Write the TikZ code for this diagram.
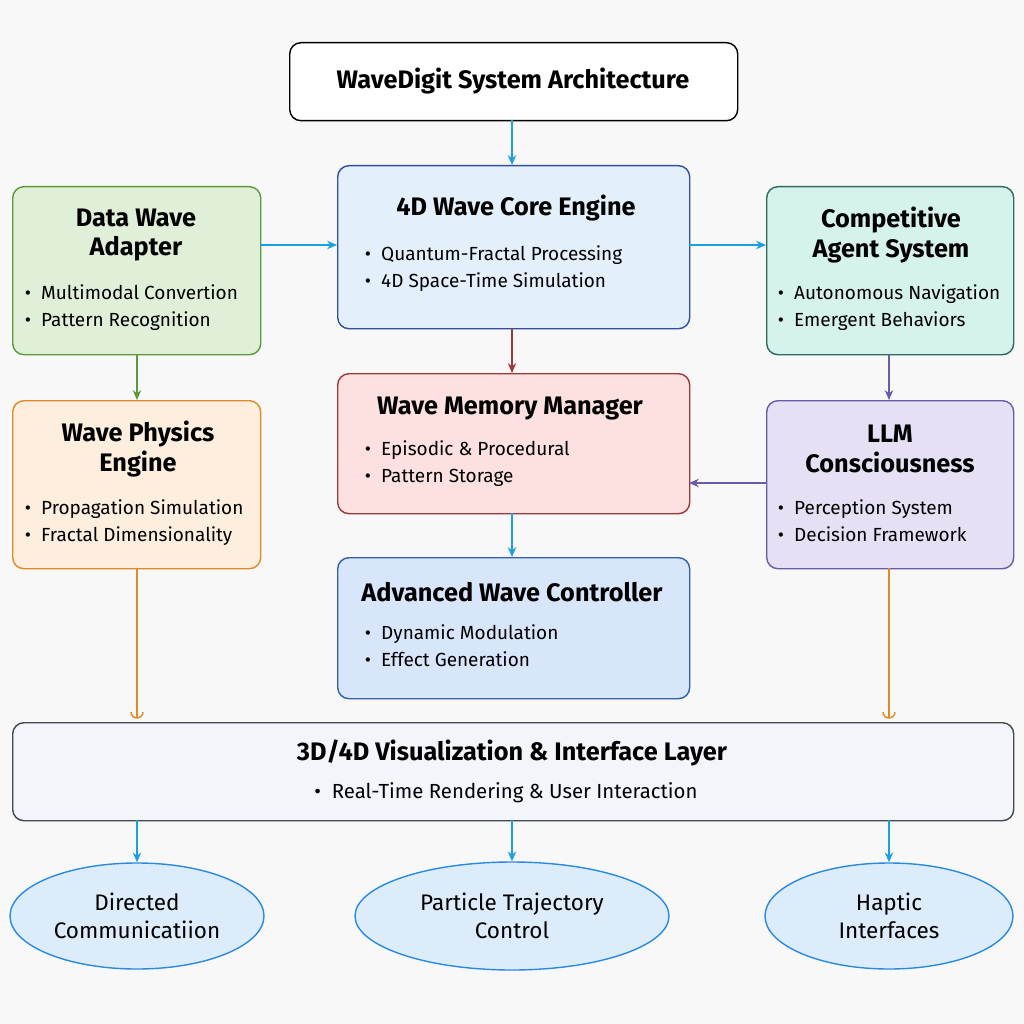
\documentclass[tikz,border=0pt]{standalone}
\usepackage{fontspec}
\setmainfont{Fira Sans}
\usetikzlibrary{arrows.meta,shapes.geometric}
\definecolor{bg}{HTML}{F8F8F8}
\begin{document}
\begin{tikzpicture}[x=0.025cm,y=-0.025cm,
 box/.style={draw,rounded corners=8pt,line width=1pt,anchor=north west,inner sep=0pt},
 head/.style={font=\fontsize{18}{21}\selectfont\bfseries,align=center},
 bul/.style={font=\fontsize{13.5}{16}\selectfont,align=left,anchor=north west},
 arr/.style={-{Stealth[length=7pt,width=6pt]},line width=1pt},
 ell/.style={draw=eB,fill=eF,line width=1pt,ellipse,inner sep=0pt,font=\fontsize{16}{20}\selectfont,align=center}]
\definecolor{eB}{HTML}{2A8AE0}\definecolor{eF}{HTML}{DCECFB}
\path[fill=bg] (0,0) rectangle (1024,1024);
\definecolor{gB}{HTML}{5A9A3A}\definecolor{gF}{HTML}{E0F0D8}
\definecolor{cB}{HTML}{2F4F9F}\definecolor{cF}{HTML}{E3F0FC}
\definecolor{tB}{HTML}{2F6A5E}\definecolor{tF}{HTML}{D5F2EC}
\definecolor{oB}{HTML}{E08A2A}\definecolor{oF}{HTML}{FDEEDD}
\definecolor{rB}{HTML}{9A3A3A}\definecolor{rF}{HTML}{FDE0E0}
\definecolor{pB}{HTML}{6A5AAA}\definecolor{pF}{HTML}{E6E0F5}
\definecolor{bB}{HTML}{2F5FAF}\definecolor{bF}{HTML}{D8E6FB}
\definecolor{vB}{HTML}{404850}\definecolor{vF}{HTML}{F3F5FB}
\definecolor{ar}{HTML}{1AA0E0}
% boxes
\node[box,fill=white,minimum width=448*0.025cm,minimum height=78*0.025cm] (title) at (289,42) {};
\node[font=\fontsize{18}{21}\selectfont\bfseries] at (513,81) {WaveDigit System Architecture};
\node[box,draw=gB,fill=gF,minimum width=248*0.025cm,minimum height=168*0.025cm] (dwa) at (12,186) {};
\node[head] at (136,235) {Data Wave\\Adapter};
\node[bul] at (20,280) {•\ \ Multimodal Convertion\\[3pt]•\ \ Pattern Recognition};
\node[box,draw=cB,fill=cF,minimum width=352*0.025cm,minimum height=163*0.025cm] (core) at (337,165) {};
\node[head] at (516,208) {4D Wave Core Engine};
\node[bul] at (360,241) {•\ \ Quantum-Fractal Processing\\[3pt]•\ \ 4D Space-Time Simulation};
\node[box,draw=tB,fill=tF,minimum width=247*0.025cm,minimum height=168*0.025cm] (cas) at (766,186) {};
\node[head] at (891,235) {Competitive\\Agent System};
\node[bul] at (773,280) {•\ \ Autonomous Navigation\\[3pt]•\ \ Emergent Behaviors};
\node[box,draw=oB,fill=oF,minimum width=248*0.025cm,minimum height=168*0.025cm] (wpe) at (12,400) {};
\node[head] at (138,449) {Wave Physics\\Engine};
\node[bul] at (20,495) {•\ \ Propagation Simulation\\[3pt]•\ \ Fractal Dimensionality};
\node[box,draw=rB,fill=rF,minimum width=352*0.025cm,minimum height=140*0.025cm] (mem) at (337,373) {};
\node[head] at (510,409) {Wave Memory Manager};
\node[bul] at (360,436) {•\ \ Episodic \& Procedural\\[3pt]•\ \ Pattern Storage};
\node[box,draw=pB,fill=pF,minimum width=247*0.025cm,minimum height=168*0.025cm] (llm) at (766,400) {};
\node[head] at (890,449) {LLM\\Consciousness};
\node[bul] at (773,495) {•\ \ Perception System\\[3pt]•\ \ Decision Framework};
\node[box,draw=bB,fill=bF,minimum width=352*0.025cm,minimum height=141*0.025cm] (ctl) at (337,557) {};
\node[head] at (512,592) {Advanced Wave Controller};
\node[bul] at (360,620) {•\ \ Dynamic Modulation\\[3pt]•\ \ Effect Generation};
\node[box,draw=vB,fill=vF,minimum width=1001*0.025cm,minimum height=98*0.025cm] (viz) at (12,722) {};
\node[head] at (512,753) {3D/4D Visualization \& Interface Layer};
\node[font=\fontsize{14.5}{17}\selectfont] at (506,793) {•\ \ Real-Time Rendering \& User Interaction};
\node[ell,minimum width=254*0.025cm,minimum height=106*0.025cm] (e1) at (137,916) {Directed\\Communicatiion};
\node[ell,minimum width=314*0.025cm,minimum height=108*0.025cm] (e2) at (512,916) {Particle Trajectory\\Control};
\node[ell,minimum width=248*0.025cm,minimum height=106*0.025cm] (e3) at (889,916) {Haptic\\Interfaces};
% arrows
\coordinate (a1) at (512,120);\coordinate (a2) at (512,165);
\draw[arr,ar] (a1)--(a2);
\coordinate (b1) at (260,245);\coordinate (b2) at (337,245);
\draw[arr,ar] (b1)--(b2);
\coordinate (c1) at (689,245);\coordinate (c2) at (766,245);
\draw[arr,ar] (c1)--(c2);
\coordinate (d1) at (137,354);\coordinate (d2) at (137,400);
\draw[arr,gB] (d1)--(d2);
\coordinate (f1) at (512,328);\coordinate (f2) at (512,373);
\draw[arr,rB] (f1)--(f2);
\coordinate (g1) at (889,354);\coordinate (g2) at (889,400);
\draw[arr,pB] (g1)--(g2);
\coordinate (h1) at (766,483);\coordinate (h2) at (689,483);
\draw[arr,pB] (h1)--(h2);
\coordinate (i1) at (512,513);\coordinate (i2) at (512,557);
\draw[arr,ar] (i1)--(i2);
\coordinate (j1) at (137,568);\coordinate (j2) at (137,718);
\draw[oB,line width=1pt] (j1)--(j2);
\draw[oB,line width=1pt] (131,712) arc[start angle=180,end angle=0,radius=6];
\coordinate (k1) at (889,568);\coordinate (k2) at (889,718);
\draw[oB,line width=1pt] (k1)--(k2);
\draw[oB,line width=1pt] (883,712) arc[start angle=180,end angle=0,radius=6];
\foreach \x/\e in {137/e1,512/e2,889/e3}{
 \draw[arr,ar] (\x,820)--(\e.north);}
\end{tikzpicture}
\end{document}
